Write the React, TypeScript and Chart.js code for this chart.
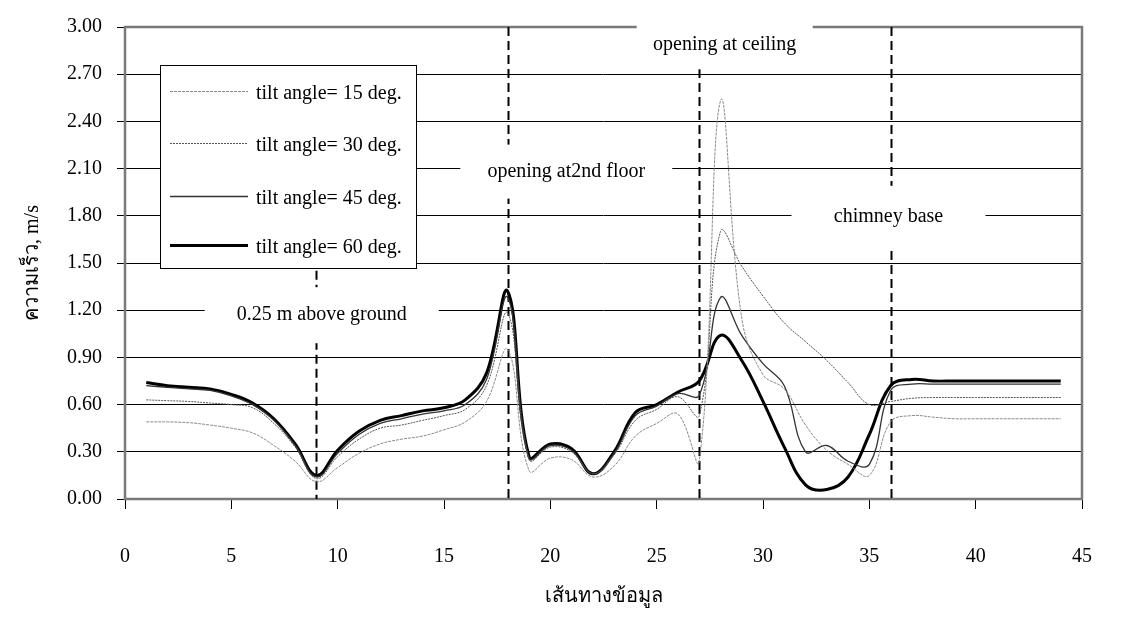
import React, { useEffect, useRef } from "react";
import { Chart, registerables } from "chart.js";

Chart.register(...registerables);

// Measuring stations along the path (x axis)
const stations = [
  1, 2, 3, 4, 5, 6, 7, 8, 9, 10, 11, 12, 13, 14, 15, 16, 17, 18, 19, 20, 21, 22,
  23, 24, 25, 26, 27, 28, 29, 30, 31, 32, 33, 34, 35, 36, 37, 38, 39, 40, 41, 42, 43, 44,
];

// Air velocity (m/s) for each collector tilt angle
const tilt15 = [
  0.49, 0.49, 0.485, 0.47, 0.45, 0.42, 0.34, 0.24, 0.11, 0.2, 0.29, 0.35, 0.38, 0.4, 0.44,
  0.49, 0.62, 0.95, 0.18, 0.26, 0.25, 0.14, 0.21, 0.4, 0.48, 0.54, 0.24, 2.53, 1.15, 0.79,
  0.7, 0.47, 0.31, 0.22, 0.15, 0.49, 0.53, 0.52, 0.51, 0.51, 0.51, 0.51, 0.51, 0.51,
];
const tilt30 = [
  0.63, 0.625, 0.62, 0.61, 0.6, 0.58, 0.48, 0.33, 0.13, 0.27, 0.38, 0.45, 0.47, 0.5, 0.53,
  0.57, 0.72, 1.18, 0.25, 0.33, 0.3, 0.16, 0.28, 0.5, 0.57, 0.65, 0.53, 1.7, 1.48, 1.29,
  1.12, 1.0, 0.88, 0.74, 0.6, 0.62, 0.64, 0.645, 0.645, 0.645, 0.645, 0.645, 0.645, 0.645,
];
const tilt45 = [
  0.72, 0.71, 0.7, 0.69, 0.655, 0.6, 0.5, 0.34, 0.14, 0.29, 0.41, 0.48, 0.51, 0.54, 0.56,
  0.6, 0.76, 1.28, 0.26, 0.34, 0.31, 0.16, 0.29, 0.53, 0.59, 0.67, 0.66, 1.28, 1.04, 0.86,
  0.72, 0.3, 0.34, 0.24, 0.22, 0.69, 0.73, 0.73, 0.73, 0.73, 0.73, 0.73, 0.73, 0.73,
];
const tilt60 = [
  0.74, 0.72, 0.71, 0.7, 0.665, 0.61, 0.51, 0.35, 0.15, 0.31, 0.43, 0.5, 0.53, 0.56, 0.58,
  0.63, 0.8, 1.32, 0.27, 0.35, 0.32, 0.16, 0.3, 0.55, 0.6, 0.68, 0.75, 1.04, 0.88, 0.62,
  0.33, 0.09, 0.06, 0.14, 0.41, 0.72, 0.76, 0.75, 0.75, 0.75, 0.75, 0.75, 0.75, 0.75,
];

const seriesLabels = [
  "tilt angle= 15 deg.",
  "tilt angle= 30 deg.",
  "tilt angle= 45 deg.",
  "tilt angle= 60 deg.",
];

const xTickValues = [0, 5, 10, 15, 20, 25, 30, 35, 40, 45];
const yTickValues = [0, 0.3, 0.6, 0.9, 1.2, 1.5, 1.8, 2.1, 2.4, 2.7, 3.0];

// Vertical reference lines (station, upper end in m/s)
const markerStations = [9, 18, 27, 36];
const markerTops = [1.45, 3.0, 3.0, 3.0];

// Location notes (text, anchor station, anchor velocity)
const noteTexts = ["0.25 m above ground", "opening at2nd floor", "opening at ceiling", "chimney base"];
const noteStations = [9.25, 20.75, 28.2, 35.9];
const noteLevels = [1.2, 2.1, 2.89, 1.8];

const FONT = '"Liberation Serif", "Times New Roman", serif';

// Box sizes / text offsets for the notes, in pixels
const NOTE_STYLE = [
  { w: 234, h: 56, dy: 5 },
  { w: 212, h: 54, dy: 3 },
  { w: 176, h: 50, dy: 0 },
  { w: 194, h: 62, dy: 1 },
];

const LEGEND = {
  left: 160,
  top: 65,
  width: 256,
  height: 203,
  sampleFrom: 170,
  sampleTo: 248,
  textX: 256,
  rows: [91, 143, 196, 245],
};

const overlayPlugin = {
  id: "overlay",
  beforeDatasetsDraw(chart: any) {
    const { ctx, chartArea: a, scales } = chart;
    const xs = scales.x;
    const ys = scales.y;
    ctx.save();
    // plot frame
    ctx.strokeStyle = "#7a7a7a";
    ctx.lineWidth = 2.5;
    ctx.strokeRect(a.left, a.top, a.right - a.left, a.bottom - a.top);
    // dashed station markers
    ctx.strokeStyle = "#000";
    ctx.lineWidth = 2;
    ctx.setLineDash([9, 5]);
    markerStations.forEach((s, i) => {
      const px = Math.round(xs.getPixelForValue(s)) + 0.5;
      ctx.beginPath();
      ctx.moveTo(px, ys.getPixelForValue(markerTops[i]));
      ctx.lineTo(px, a.bottom);
      ctx.stroke();
    });
    ctx.restore();
  },
  afterDatasetsDraw(chart: any) {
    const { ctx, scales } = chart;
    const xs = scales.x;
    const ys = scales.y;
    ctx.save();
    ctx.font = `20px ${FONT}`;
    ctx.textAlign = "center";
    ctx.textBaseline = "middle";
    noteTexts.forEach((t, i) => {
      const st = NOTE_STYLE[i];
      const cx = xs.getPixelForValue(noteStations[i]);
      const cy = ys.getPixelForValue(noteLevels[i]) + st.dy;
      ctx.fillStyle = "#fff";
      ctx.fillRect(cx - st.w / 2, cy - st.h / 2, st.w, st.h);
      ctx.fillStyle = "#000";
      ctx.fillText(t, cx, cy);
    });

    // legend
    const L = LEGEND;
    ctx.fillStyle = "#fff";
    ctx.fillRect(L.left, L.top, L.width, L.height);
    ctx.strokeStyle = "#000";
    ctx.lineWidth = 1;
    ctx.setLineDash([]);
    ctx.strokeRect(L.left + 0.5, L.top + 0.5, L.width, L.height);
    chart.data.datasets.forEach((ds: any, i: number) => {
      const y = L.rows[i];
      ctx.save();
      ctx.strokeStyle = ds.borderColor;
      ctx.lineWidth = ds.borderWidth;
      ctx.setLineDash(ds.borderDash || []);
      ctx.beginPath();
      ctx.moveTo(L.sampleFrom, y + 0.5);
      ctx.lineTo(L.sampleTo, y + 0.5);
      ctx.stroke();
      ctx.restore();
      ctx.fillStyle = "#000";
      ctx.textAlign = "left";
      ctx.textBaseline = "middle";
      ctx.fillText(ds.label, L.textX, y + 3);
    });
    ctx.restore();
  },
};

export default function App() {
  const canvasRef = useRef<HTMLCanvasElement | null>(null);

  useEffect(() => {
    const canvas = canvasRef.current;
    if (!canvas) return;
    const toPoints = (vals: number[]) => stations.map((x, i) => ({ x, y: vals[i] }));
    const styles = [
      { color: "#8a8a8a", width: 1, dash: [3, 1] },
      { color: "#555555", width: 1, dash: [2, 1] },
      { color: "#333333", width: 1.3, dash: [] as number[] },
      { color: "#000000", width: 3, dash: [] as number[] },
    ];
    const values = [tilt15, tilt30, tilt45, tilt60];

    const chart = new Chart(canvas, {
      type: "line",
      data: {
        datasets: values.map((v, i) => ({
          label: seriesLabels[i],
          data: toPoints(v),
          borderColor: styles[i].color,
          borderWidth: styles[i].width,
          borderDash: styles[i].dash,
          pointRadius: 0,
          fill: false,
          tension: 0.4,
        })),
      },
      options: {
        responsive: false,
        animation: false,
        devicePixelRatio: 1,
        layout: { padding: { top: 18, right: 23, left: 0, bottom: 0 } },
        plugins: {
          legend: { display: false },
          tooltip: { enabled: false },
        },
        scales: {
          x: {
            type: "linear",
            min: 0,
            max: 45,
            afterBuildTicks: (scale: any) => {
              scale.ticks = xTickValues.map((v) => ({ value: v }));
            },
            afterFit: (scale: any) => {
              scale.height = 120;
            },
            grid: {
              drawOnChartArea: false,
              drawTicks: true,
              tickLength: 10,
              color: "#000",
            },
            border: { display: false },
            ticks: {
              padding: 36,
              color: "#000",
              font: { family: FONT, size: 20 },
              callback: (v: any) => String(v),
            },
            title: {
              display: true,
              text: "เส้นทางข้อมูล",
              color: "#000",
              font: { family: FONT, size: 20 },
              padding: { top: 0, bottom: 10 },
            },
          },
          y: {
            min: 0,
            max: 3,
            afterBuildTicks: (scale: any) => {
              scale.ticks = yTickValues.map((v) => ({ value: v }));
            },
            afterFit: (scale: any) => {
              scale.width = 125;
            },
            grid: {
              color: "#000",
              lineWidth: 1,
              tickLength: 8,
            },
            border: { display: false },
            ticks: {
              padding: 15,
              color: "#000",
              font: { family: FONT, size: 20 },
              callback: (v: any) => Number(v).toFixed(2),
            },
            title: {
              display: true,
              text: "ความเร็ว, m/s",
              color: "#000",
              font: { family: FONT, size: 20 },
              padding: { top: 21, bottom: 0 },
            },
          },
        },
      },
      plugins: [overlayPlugin],
    });

    return () => chart.destroy();
  }, []);

  return (
    <div style={{ position: "fixed", left: 0, top: 0, width: 1128, height: 619, background: "#fff" }}>
      <canvas ref={canvasRef} width={1128} height={619} style={{ width: 1128, height: 619 }} />
    </div>
  );
}
